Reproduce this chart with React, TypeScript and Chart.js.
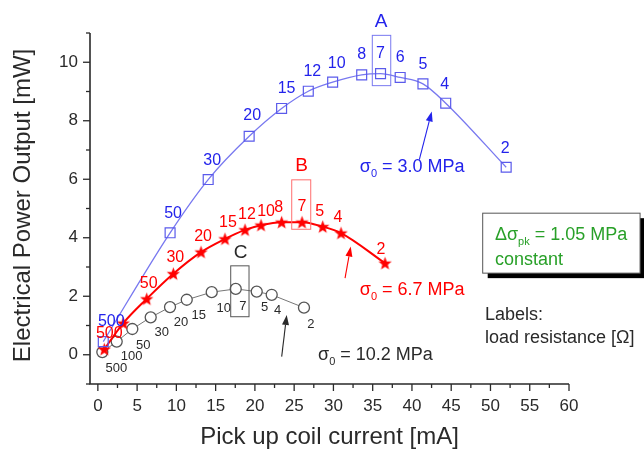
import React, { useEffect, useRef } from "react";
import { Chart, registerables } from "chart.js";

Chart.register(...registerables);

// ---------- data ----------
const xTickValues = [0, 5, 10, 15, 20, 25, 30, 35, 40, 45, 50, 55, 60];
const yTickValues = [0, 2, 4, 6, 8, 10];

// Series A: sigma0 = 3.0 MPa (blue squares)
const currentA = [0.69, 9.2, 14.05, 19.27, 23.4, 26.8, 29.9, 33.6, 36.0, 38.5, 41.4, 44.3, 52.0];
const powerA = [0.45, 4.17, 5.99, 7.47, 8.42, 9.01, 9.32, 9.57, 9.61, 9.48, 9.26, 8.6, 6.41];
const labelsA = ["500", "50", "30", "20", "15", "12", "10", "8", "7", "6", "5", "4", "2"];

// Series B: sigma0 = 6.7 MPa (red stars)
const currentB = [0.82, 3.24, 6.22, 9.61, 13.14, 16.19, 18.74, 20.78, 23.41, 26.0, 28.64, 30.97, 36.57];
const powerB = [0.19, 1.08, 1.91, 2.77, 3.51, 3.96, 4.27, 4.43, 4.53, 4.53, 4.38, 4.16, 3.13];
const labelsB = ["500", "", "50", "30", "20", "15", "12", "10", "8", "7", "5", "4", "2"];

// Series C: sigma0 = 10.2 MPa (black circles)
const currentC = [0.57, 2.4, 4.39, 6.73, 9.19, 11.32, 14.5, 17.56, 20.23, 22.14, 26.25];
const powerC = [0.09, 0.45, 0.88, 1.28, 1.63, 1.88, 2.14, 2.25, 2.16, 2.05, 1.61];
const labelsC = ["500", "100", "50", "30", "20", "15", "10", "7", "5", "4", "2"];

// ---------- layout / style (pixel offsets of the resistance labels) ----------
const offA = [[8, -20], [3, -19], [4, -19], [3, -21], [5, -20], [4, -20], [4, -19], [0, -20], [0, -20], [0, -20], [0, -19], [-1, -19], [-1, -19]];
const offB = [[5, -16], [0, 0], [2, -15], [2, -16], [2, -15], [3, -16], [2, -15], [5, -14], [-3, -15], [0, -16], [-3, -15], [-3, -15], [-4, -14]];
const offC = [[14, 16], [15, 15], [11, 16], [11, 15], [11, 15], [12, 16], [12, 16], [7, 17], [8, 16], [6, 16], [7, 17]];

const FF = '"Liberation Sans", Arial, Helvetica, sans-serif';
const BLUE = "rgb(35,35,235)";
const BLUE_LINE = "rgb(120,120,240)";
const RED = "rgb(255,0,0)";
const GREEN = "rgb(40,160,40)";
const DARK = "#2a2a2a";

function makeStar(): HTMLCanvasElement {
  const c = document.createElement("canvas");
  c.width = 15;
  c.height = 15;
  const g = c.getContext("2d")!;
  g.fillStyle = RED;
  g.beginPath();
  const cx = 7.5, cy = 8, ro = 7, ri = 2.9;
  for (let i = 0; i < 10; i++) {
    const r = i % 2 === 0 ? ro : ri;
    const a = -Math.PI / 2 + (i * Math.PI) / 5;
    const px = cx + r * Math.cos(a);
    const py = cy + r * Math.sin(a);
    if (i === 0) g.moveTo(px, py);
    else g.lineTo(px, py);
  }
  g.closePath();
  g.fill();
  return c;
}

function arrow(ctx: CanvasRenderingContext2D, x1: number, y1: number, x2: number, y2: number, color: string) {
  const ang = Math.atan2(y2 - y1, x2 - x1);
  const len = 10, w = 3.5;
  ctx.save();
  ctx.strokeStyle = color;
  ctx.fillStyle = color;
  ctx.lineWidth = 1.1;
  ctx.beginPath();
  ctx.moveTo(x1, y1);
  ctx.lineTo(x2 - len * Math.cos(ang), y2 - len * Math.sin(ang));
  ctx.stroke();
  ctx.beginPath();
  ctx.moveTo(x2, y2);
  ctx.lineTo(x2 - len * Math.cos(ang) + w * Math.sin(ang), y2 - len * Math.sin(ang) - w * Math.cos(ang));
  ctx.lineTo(x2 - len * Math.cos(ang) - w * Math.sin(ang), y2 - len * Math.sin(ang) + w * Math.cos(ang));
  ctx.closePath();
  ctx.fill();
  ctx.restore();
}

function subText(ctx: CanvasRenderingContext2D, x: number, y: number, color: string, main: string, sub: string, rest: string, size: number) {
  ctx.save();
  ctx.fillStyle = color;
  ctx.textAlign = "left";
  ctx.textBaseline = "middle";
  ctx.font = `${size}px ${FF}`;
  ctx.fillText(main, x, y);
  let cx = x + ctx.measureText(main).width;
  ctx.font = `${Math.round(size * 0.62)}px ${FF}`;
  ctx.fillText(sub, cx, y + size * 0.38);
  cx += ctx.measureText(sub).width;
  ctx.font = `${size}px ${FF}`;
  ctx.fillText(rest, cx, y);
  ctx.restore();
}

const customPlugin = {
  id: "customDraw",
  beforeDraw(chart: any) {
    const ctx = chart.ctx;
    ctx.save();
    ctx.fillStyle = "#ffffff";
    ctx.fillRect(0, 0, chart.width, chart.height);
    ctx.restore();
  },
  afterDraw(chart: any) {
    const ctx: CanvasRenderingContext2D = chart.ctx;
    const xs = chart.scales.x;
    const ys = chart.scales.y;
    const X = (v: number) => xs.getPixelForValue(v);
    const Y = (v: number) => ys.getPixelForValue(v);
    const { left, right, top, bottom } = chart.chartArea;

    ctx.save();
    // axes
    ctx.strokeStyle = DARK;
    ctx.lineWidth = 1.6;
    ctx.beginPath();
    ctx.moveTo(left, top);
    ctx.lineTo(left, bottom);
    ctx.lineTo(right, bottom);
    ctx.stroke();
    ctx.lineWidth = 1.3;
    // x ticks
    for (let v = 0; v <= 60; v += 2.5) {
      const major = v % 5 === 0;
      const px = X(v);
      ctx.beginPath();
      ctx.moveTo(px, bottom);
      ctx.lineTo(px, bottom + (major ? 7 : 4));
      ctx.stroke();
    }
    // y ticks
    for (let v = -1; v <= 11; v += 1) {
      const major = v % 2 === 0;
      const py = Y(v);
      ctx.beginPath();
      ctx.moveTo(left, py);
      ctx.lineTo(left - (major ? 7 : 4), py);
      ctx.stroke();
    }
    // tick labels
    ctx.fillStyle = DARK;
    ctx.font = `17px ${FF}`;
    ctx.textAlign = "center";
    ctx.textBaseline = "middle";
    xTickValues.forEach((v) => ctx.fillText(String(v), X(v), bottom + 22));
    ctx.textAlign = "right";
    yTickValues.forEach((v) => ctx.fillText(String(v), left - 12, Y(v)));

    // axis titles
    ctx.font = `24px ${FF}`;
    ctx.textAlign = "center";
    ctx.textBaseline = "middle";
    ctx.fillText("Pick up coil current [mA]", (left + right) / 2, 437);
    ctx.save();
    ctx.translate(23, (top + bottom) / 2 - 3);
    ctx.rotate(-Math.PI / 2);
    ctx.fillText("Electrical Power Output [mW]", 0, 0);
    ctx.restore();

    // resistance labels
    const drawLabels = (idx: number, labels: string[], offs: number[][], color: string, size: number) => {
      const meta = chart.getDatasetMeta(idx);
      ctx.fillStyle = color;
      ctx.font = `${size}px ${FF}`;
      ctx.textAlign = "center";
      ctx.textBaseline = "middle";
      meta.data.forEach((el: any, j: number) => {
        if (!labels[j]) return;
        ctx.fillText(labels[j], el.x + offs[j][0], el.y + offs[j][1]);
      });
    };
    drawLabels(0, labelsA, offA, BLUE, 16);
    drawLabels(1, labelsB, offB, RED, 16);
    drawLabels(2, labelsC, offC, DARK, 13);

    // boxes around 7-ohm points
    const box = (x1: number, y1: number, x2: number, y2: number, color: string) => {
      ctx.strokeStyle = color;
      ctx.lineWidth = 1;
      ctx.strokeRect(X(x1), Y(y1), X(x2) - X(x1), Y(y2) - Y(y1));
    };
    box(34.95, 10.92, 37.3, 9.2, BLUE_LINE);
    box(24.69, 5.98, 27.11, 4.29, "rgb(255,110,110)");
    box(16.92, 3.04, 19.25, 1.3, "#555");

    ctx.font = `19px ${FF}`;
    ctx.textAlign = "center";
    ctx.fillStyle = BLUE;
    ctx.fillText("A", X(36.06), Y(11.4));
    ctx.fillStyle = RED;
    ctx.fillText("B", X(25.96), Y(6.47));
    ctx.fillStyle = DARK;
    ctx.fillText("C", X(18.19), Y(3.47));

    // sigma annotations
    subText(ctx, X(33.36), Y(6.43), BLUE, "σ", "0", " = 3.0 MPa", 18);
    arrow(ctx, X(40.94), Y(6.67), X(42.52), Y(8.32), BLUE);
    subText(ctx, X(33.36), Y(2.22), RED, "σ", "0", " = 6.7 MPa", 18);
    arrow(ctx, X(31.48), Y(2.62), X(32.2), Y(3.7), RED);
    subText(ctx, X(28.04), Y(-0.01), DARK, "σ", "0", " = 10.2 MPa", 18);
    arrow(ctx, X(23.41), Y(-0.065), X(24.05), Y(1.36), DARK);

    // green box with shadow
    const bx1 = X(49.01), bx2 = X(69.05), by1 = Y(4.84), by2 = Y(2.79);
    ctx.fillStyle = "#000";
    ctx.fillRect(bx1 + 5, by1 + 5, bx2 - bx1, by2 - by1);
    ctx.fillStyle = "#fff";
    ctx.fillRect(bx1, by1, bx2 - bx1, by2 - by1);
    ctx.strokeStyle = "#555";
    ctx.lineWidth = 1;
    ctx.strokeRect(bx1, by1, bx2 - bx1, by2 - by1);
    subText(ctx, X(50.57), Y(4.1), GREEN, "Δσ", "pk", " = 1.05 MPa", 18);
    ctx.fillStyle = GREEN;
    ctx.font = `18px ${FF}`;
    ctx.textAlign = "left";
    ctx.textBaseline = "middle";
    ctx.fillText("constant", X(50.57), Y(3.24));

    ctx.fillStyle = DARK;
    ctx.fillText("Labels:", X(49.3), Y(1.36));
    ctx.fillText("load resistance [Ω]", X(49.3), Y(0.56));
    ctx.restore();
  },
};

export default function App() {
  const ref = useRef<HTMLCanvasElement>(null);
  useEffect(() => {
    if (!ref.current) return;
    const star = makeStar();
    const toPts = (xs: number[], ys: number[]) => xs.map((x, i) => ({ x, y: ys[i] }));
    const chart = new Chart(ref.current, {
      type: "scatter",
      data: {
        datasets: [
          {
            data: toPts(currentA, powerA),
            showLine: true,
            borderColor: BLUE_LINE,
            borderWidth: 1.3,
            cubicInterpolationMode: "monotone",
            pointStyle: "rect",
            pointRadius: 7,
            pointBorderColor: "rgb(90,90,235)",
            pointBackgroundColor: "rgba(0,0,0,0)",
            pointBorderWidth: 1.2,
          },
          {
            data: toPts(currentB, powerB),
            showLine: true,
            borderColor: RED,
            borderWidth: 2,
            cubicInterpolationMode: "monotone",
            pointStyle: star as any,
            pointRadius: 7,
          },
          {
            data: toPts(currentC, powerC),
            showLine: true,
            borderColor: "#777",
            borderWidth: 1,
            tension: 0,
            pointStyle: "circle",
            pointRadius: 5.5,
            pointBorderColor: "#555",
            pointBackgroundColor: "#fff",
            pointBorderWidth: 1.3,
          },
        ],
      } as any,
      options: {
        animation: false,
        responsive: false,
        layout: { padding: { top: 33, right: 75, left: 0, bottom: 0 } },
        plugins: { legend: { display: false }, tooltip: { enabled: false } },
        scales: {
          x: {
            type: "linear",
            min: -1,
            max: 60,
            grid: { display: false },
            border: { display: false },
            ticks: { display: false },
            afterBuildTicks: (s: any) => {
              s.ticks = xTickValues.map((v) => ({ value: v }));
            },
            afterFit: (s: any) => {
              s.height = 66;
            },
          },
          y: {
            type: "linear",
            min: -1,
            max: 11,
            grid: { display: false },
            border: { display: false },
            ticks: { display: false },
            afterBuildTicks: (s: any) => {
              s.ticks = yTickValues.map((v) => ({ value: v }));
            },
            afterFit: (s: any) => {
              s.width = 90;
            },
          },
        },
      } as any,
      plugins: [customPlugin],
    });
    return () => chart.destroy();
  }, []);
  return (
    <div style={{ position: "fixed", left: 0, top: 0, width: 644, height: 450 }}>
      <canvas ref={ref} width={644} height={450} style={{ display: "block" }} />
    </div>
  );
}
